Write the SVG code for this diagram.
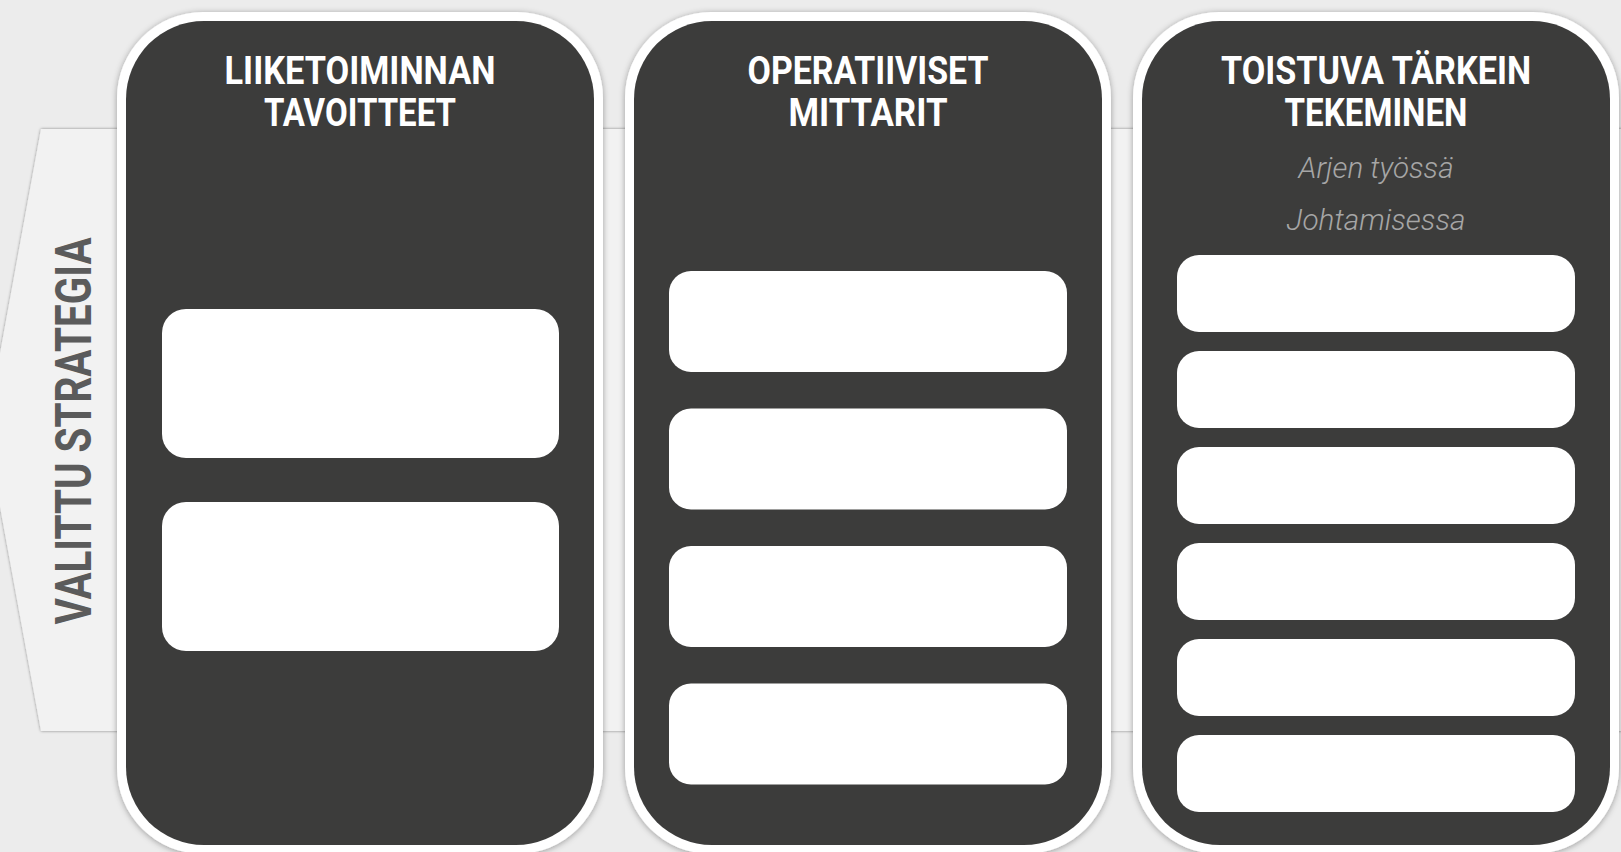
<svg xmlns="http://www.w3.org/2000/svg" width="1621" height="852" viewBox="0 0 1621 852">
  <style>
    .title { font-family: Roboto, "Liberation Sans", sans-serif; font-weight: 700; font-size: 38px; fill: #ffffff; text-anchor: middle; }
    .sub { font-family: Roboto, "Liberation Sans", sans-serif; font-weight: 300; font-style: italic; font-size: 30px; fill: #a6a6a6; text-anchor: middle; }
    .side { font-family: Roboto, "Liberation Sans", sans-serif; font-weight: 700; font-size: 50px; fill: #5b5b5b; text-anchor: middle; }
    .outer { fill: #ffffff; filter: url(#shadow); }
    .inner { fill: #3c3c3b; }
    .box { fill: #ffffff; }
  </style>
  <defs>
    <filter id="shadow" x="-10%" y="-10%" width="120%" height="120%">
      <feDropShadow dx="0" dy="1" stdDeviation="3" flood-color="#000000" flood-opacity="0.35"/>
    </filter>
    <filter id="bandShadow" x="-5%" y="-5%" width="110%" height="110%">
      <feDropShadow dx="0" dy="0" stdDeviation="1.6" flood-color="#000000" flood-opacity="0.45"/>
    </filter>
  </defs>

  <rect x="0" y="0" width="1621" height="852" fill="#ececec"/>

  <g id="strategy-band">
    <path d="M41,129 L1640,129 L1640,731 L41,731 L-14,430 Z" fill="#f2f2f2" filter="url(#bandShadow)"/>
    <text class="side" transform="translate(91,431) rotate(-90)" textLength="387" lengthAdjust="spacingAndGlyphs">VALITTU STRATEGIA</text>
  </g>

  <g id="col-liiketoiminnan-tavoitteet">
    <rect class="outer" x="117" y="12" width="486" height="842" rx="86" ry="86"/>
    <rect class="inner" x="126" y="21" width="468" height="824" rx="78" ry="78"/>
    <text class="title" x="360" y="84" textLength="271" lengthAdjust="spacingAndGlyphs">LIIKETOIMINNAN</text>
    <text class="title" x="360" y="126" textLength="192" lengthAdjust="spacingAndGlyphs">TAVOITTEET</text>
    <rect class="box" x="162" y="309" width="397" height="149" rx="24" ry="24"/>
    <rect class="box" x="162" y="502" width="397" height="149" rx="24" ry="24"/>
  </g>

  <g id="col-operatiiviset-mittarit">
    <rect class="outer" x="625" y="12" width="486" height="842" rx="86" ry="86"/>
    <rect class="inner" x="634" y="21" width="468" height="824" rx="78" ry="78"/>
    <text class="title" x="868" y="84" textLength="241" lengthAdjust="spacingAndGlyphs">OPERATIIVISET</text>
    <text class="title" x="868" y="126" textLength="159" lengthAdjust="spacingAndGlyphs">MITTARIT</text>
    <rect class="box" x="669" y="271" width="398" height="101" rx="22" ry="22"/>
    <rect class="box" x="669" y="408.5" width="398" height="101" rx="22" ry="22"/>
    <rect class="box" x="669" y="546" width="398" height="101" rx="22" ry="22"/>
    <rect class="box" x="669" y="683.5" width="398" height="101" rx="22" ry="22"/>
  </g>

  <g id="col-toistuva-tarkein-tekeminen">
    <rect class="outer" x="1133" y="12" width="486" height="842" rx="86" ry="86"/>
    <rect class="inner" x="1142" y="21" width="468" height="824" rx="78" ry="78"/>
    <text class="title" x="1376" y="84" textLength="310" lengthAdjust="spacingAndGlyphs">TOISTUVA TÄRKEIN</text>
    <text class="title" x="1376" y="126" textLength="183" lengthAdjust="spacingAndGlyphs">TEKEMINEN</text>
    <text class="sub" x="1376" y="178" textLength="155" lengthAdjust="spacingAndGlyphs">Arjen työssä</text>
    <text class="sub" x="1376" y="230" textLength="179" lengthAdjust="spacingAndGlyphs">Johtamisessa</text>
    <rect class="box" x="1177" y="255" width="398" height="77" rx="22" ry="22"/>
    <rect class="box" x="1177" y="351" width="398" height="77" rx="22" ry="22"/>
    <rect class="box" x="1177" y="447" width="398" height="77" rx="22" ry="22"/>
    <rect class="box" x="1177" y="543" width="398" height="77" rx="22" ry="22"/>
    <rect class="box" x="1177" y="639" width="398" height="77" rx="22" ry="22"/>
    <rect class="box" x="1177" y="735" width="398" height="77" rx="22" ry="22"/>
  </g>

  <g id="connectors"/>
</svg>
